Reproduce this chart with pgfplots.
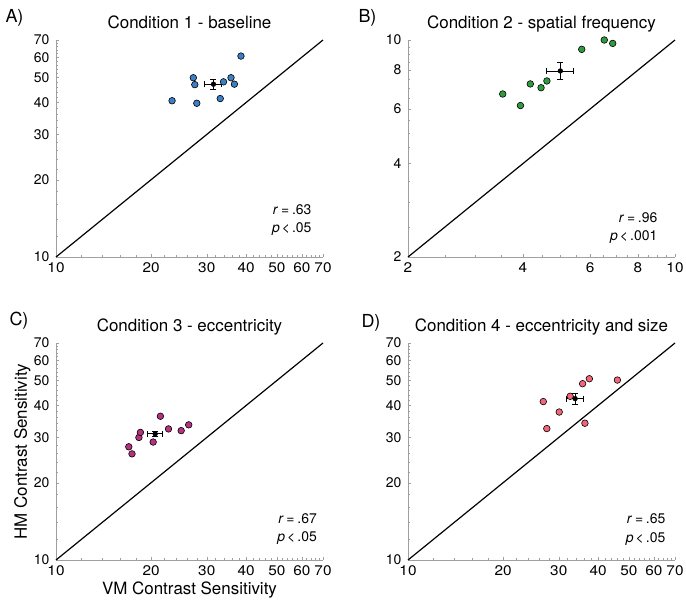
\documentclass[border=0pt]{standalone}
\usepackage{pgfplots}
\pgfplotsset{compat=1.18}
\usepackage{fontspec}
\setmainfont{TeX Gyre Heros}
\definecolor{cA}{HTML}{3C7FC4}
\definecolor{cB}{HTML}{2E9B3E}
\definecolor{cC}{HTML}{B4327F}
\definecolor{cD}{HTML}{F2667A}
\pgfplotsset{
 myPanel/.style={
  scale only axis, width=267bp, height=217bp,
  axis x line*=bottom, axis y line*=left,
  axis line style={draw=gray!75, line width=0.5pt, -},
  tick style={draw=gray!75, line width=0.4pt},
  tick align=inside,
  major tick length=3bp, minor tick length=2bp,
  /pgf/number format/assume math mode=true,
  tick label style={font=\fontsize{14}{16}\selectfont},
  yticklabel style={xshift=-3bp},
  xticklabel style={yshift=-2.5bp, xscale=1.1},
  title style={font=\fontsize{17}{20}\selectfont, at={(rel axis cs:0.5,1)}, anchor=base, yshift=6bp},
  clip=false,
 },
 myBig/.style={
  xmin=10,xmax=70,ymin=10,ymax=70,
  xtick={10,20,30,40,50,60,70}, xticklabels={10,20,30,40,50,60,70},
  ytick={10,20,30,40,50,60,70}, yticklabels={10,20,30,40,50,60,70},
  minor xtick={12,14,16,18,22,24,26,28,32,34,36,38,42,44,46,48,52,54,56,58,62,64,66,68},
  minor ytick={12,14,16,18,22,24,26,28,32,34,36,38,42,44,46,48,52,54,56,58,62,64,66,68},
 },
}
\newcommand{\rp}[5]{%
 \node[anchor=base east, font=\fontsize{14}{16}\selectfont] at (rel axis cs:#1,#2) {\textit{r}\hspace{0.2em}=\hspace{0.2em}#4};
 \node[anchor=base east, font=\fontsize{14}{16}\selectfont] at (rel axis cs:#1,#3) {\textit{p}\hspace{0.15em}<\hspace{0.15em}#5};
}
\begin{document}
\begin{tikzpicture}
\useasboundingbox (0,0) rectangle (686bp,-610bp);
% Panel A
\begin{loglogaxis}[myPanel, myBig, at={(56bp,-257bp)}, anchor=south west, title={Condition 1 - baseline}]
\addplot[black, line width=1.2pt] coordinates {(10,10) (70,70)};
\addplot[only marks, mark=*, mark size=3.3bp, mark options={draw=black, line width=0.6pt, fill=cA}] coordinates {(23.3,40.6) (27.2,49.9) (27.5,46.9) (27.9,39.7) (33.1,41.4) (33.9,48.1) (35.8,49.9) (36.7,47.1) (38.5,60.6)};
\addplot[only marks, mark=*, mark size=2.4bp, mark options={black, fill=black},
   error bars/x dir=both, error bars/x explicit, error bars/y dir=both, error bars/y explicit,
   error bars/error bar style={black, line width=0.8pt},
   error bars/error mark options={rotate=90, mark size=3bp, black, line width=0.8pt}] coordinates {(31.5,47.1) +- (2.0,2.2)};
\rp{0.97}{0.194}{0.115}{.63}{.05}
\end{loglogaxis}
% Panel B
\begin{loglogaxis}[myPanel, at={(408bp,-257bp)}, anchor=south west, title={Condition 2 - spatial frequency},
  xmin=2,xmax=10,ymin=2,ymax=10,
  xtick={2,4,6,8,10}, xticklabels={2,4,6,8,10},
  ytick={2,4,6,8,10}, yticklabels={2,4,6,8,10},
  minor xtick={2.5,3,3.5,4.5,5,5.5,6.5,7,7.5,8.5,9,9.5},
  minor ytick={2.5,3,3.5,4.5,5,5.5,6.5,7,7.5,8.5,9,9.5}]
\addplot[black, line width=1.2pt] coordinates {(2,2) (10,10)};
\addplot[only marks, mark=*, mark size=3.3bp, mark options={draw=black, line width=0.6pt, fill=cB}] coordinates {(3.54,6.70) (3.94,6.15) (4.18,7.22) (4.46,7.02) (4.62,7.38) (5.70,9.33) (6.53,10.0) (6.87,9.75)};
\addplot[only marks, mark=*, mark size=2.4bp, mark options={black, fill=black},
   error bars/x dir=both, error bars/x explicit, error bars/y dir=both, error bars/y explicit,
   error bars/error bar style={black, line width=0.8pt},
   error bars/error mark options={rotate=90, mark size=3bp, black, line width=0.8pt}] coordinates {(5.01,7.95) +- (0.4,0.5)};
\rp{0.947}{0.158}{0.078}{.96}{.001}
\end{loglogaxis}
% Panel C
\begin{loglogaxis}[myPanel, myBig, at={(56bp,-560bp)}, anchor=south west, title={Condition 3 - eccentricity},
  xlabel={VM Contrast Sensitivity}, ylabel={HM Contrast Sensitivity},
  label style={font=\fontsize{17}{20}\selectfont},
  xlabel style={at={(rel axis cs:0.5,-0.161)}, anchor=base},
  ylabel style={at={(rel axis cs:-0.109,0.5)}, anchor=base}]
\addplot[black, line width=1.2pt] coordinates {(10,10) (70,70)};
\addplot[only marks, mark=*, mark size=3.3bp, mark options={draw=black, line width=0.6pt, fill=cC}] coordinates {(17.0,27.6) (17.4,25.9) (18.3,30.0) (18.5,31.4) (20.3,28.8) (21.4,36.3) (22.7,32.4) (24.9,31.9) (26.3,33.6)};
\addplot[only marks, mark=*, mark size=2.4bp, mark options={black, fill=black},
   error bars/x dir=both, error bars/x explicit, error bars/y dir=both, error bars/y explicit,
   error bars/error bar style={black, line width=0.8pt},
   error bars/error mark options={rotate=90, mark size=3bp, black, line width=0.8pt}] coordinates {(20.6,31.0) +- (1.1,0.8)};
\rp{0.99}{0.17}{0.087}{.67}{.05}
\end{loglogaxis}
% Panel D
\begin{loglogaxis}[myPanel, myBig, at={(408bp,-560bp)}, anchor=south west, title={Condition 4 - eccentricity and size}]
\addplot[black, line width=1.2pt] coordinates {(10,10) (70,70)};
\addplot[only marks, mark=*, mark size=3.3bp, mark options={draw=black, line width=0.6pt, fill=cD}] coordinates {(26.8,41.4) (27.5,32.5) (30.1,37.7) (32.6,43.4) (35.7,48.6) (36.3,34.1) (37.5,50.8) (46.0,50.2)};
\addplot[only marks, mark=*, mark size=2.4bp, mark options={black, fill=black},
   error bars/x dir=both, error bars/x explicit, error bars/y dir=both, error bars/y explicit,
   error bars/error bar style={black, line width=0.8pt},
   error bars/error mark options={rotate=90, mark size=3bp, black, line width=0.8pt}] coordinates {(33.8,42.5) +- (2.0,2.2)};
\rp{0.977}{0.167}{0.079}{.65}{.05}
\end{loglogaxis}
\node[anchor=base west, font=\fontsize{18}{20}\selectfont] at (2bp,-22bp) {A)};
\node[anchor=base west, font=\fontsize{18}{20}\selectfont] at (355bp,-22bp) {B)};
\node[anchor=base west, font=\fontsize{18}{20}\selectfont] at (6bp,-325bp) {C)};
\node[anchor=base west, font=\fontsize{18}{20}\selectfont] at (358bp,-327bp) {D)};
\end{tikzpicture}
\end{document}
